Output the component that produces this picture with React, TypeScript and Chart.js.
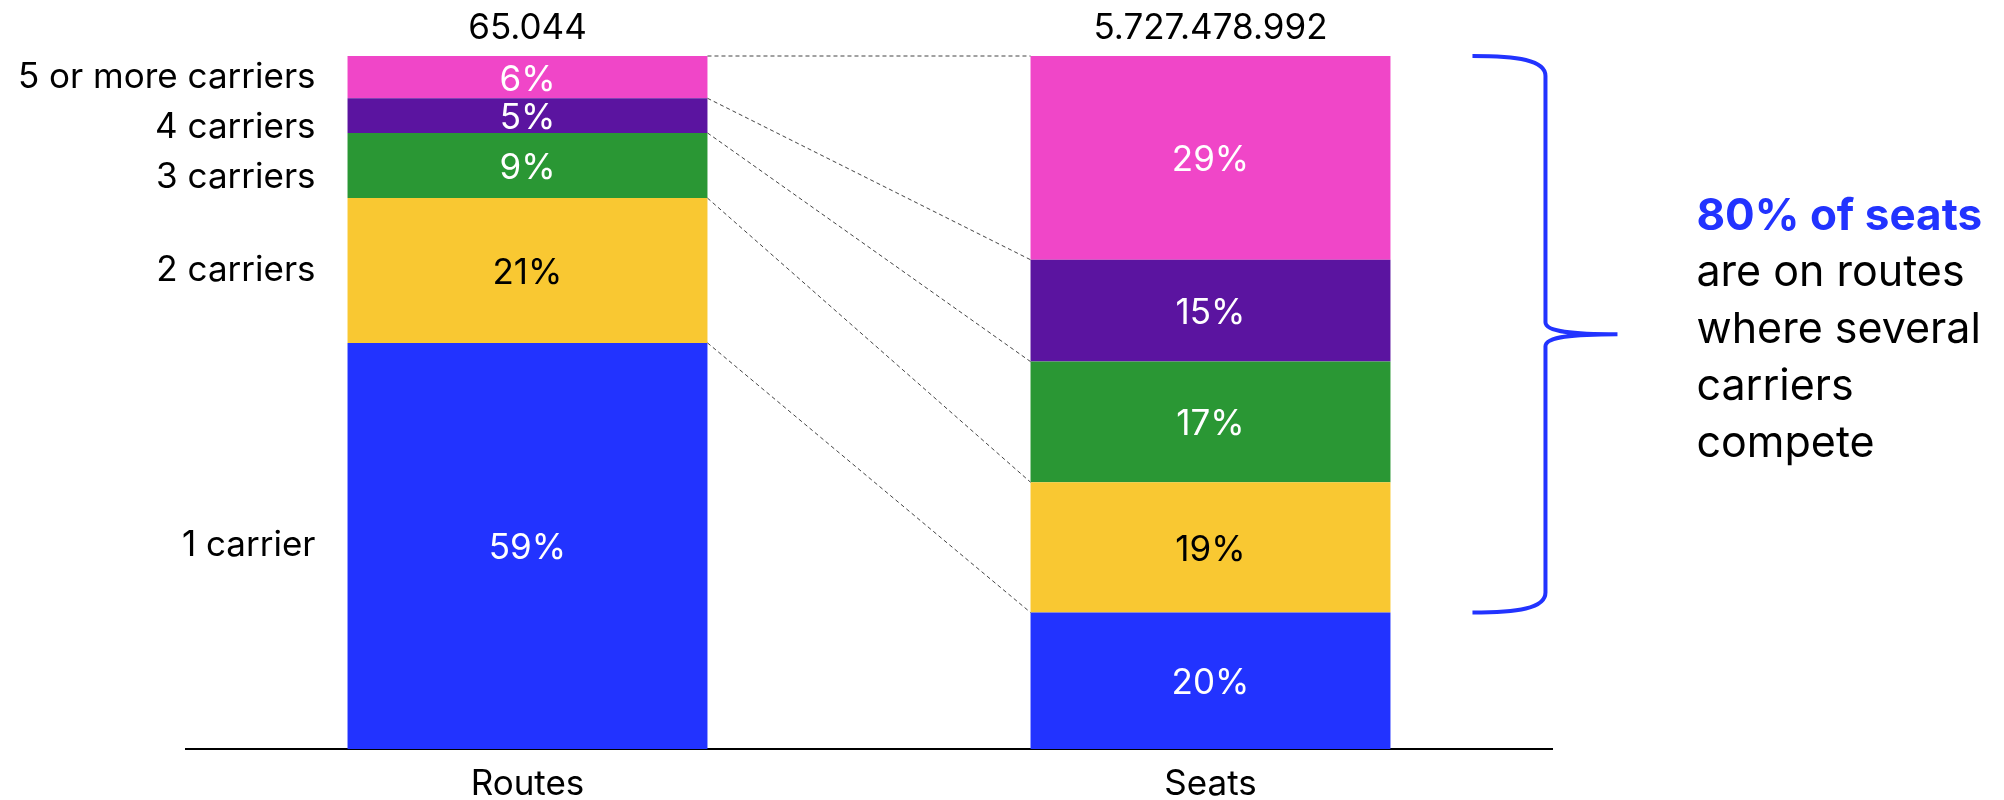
import React, { useEffect, useRef } from "react";
import { Chart, registerables } from "chart.js";

Chart.register(...registerables);

const categories = ["Routes", "Seats"];
const seriesNames = ["1 carrier", "2 carriers", "3 carriers", "4 carriers", "5 or more carriers"];
const oneCarrier = [58.6, 19.7];
const twoCarriers = [20.9, 18.8];
const threeCarriers = [9.4, 17.4];
const fourCarriers = [5.0, 14.7];
const fivePlusCarriers = [6.1, 29.4];
const totals = ["65.044", "5.727.478.992"];
const seriesColors = ["#2233FF", "#F9C832", "#2A9734", "#5B14A0", "#F046C8"];
const labelColors = ["#FFFFFF", "#000000", "#FFFFFF", "#FFFFFF", "#FFFFFF"];
const calloutHighlight = "80% of seats";
const calloutLines = ["are on routes", "where several", "carriers", "compete"];

const FONT = "Inter, 'Noto Sans', sans-serif";

const overlayPlugin = {
  id: "overlay",
  afterDatasetsDraw(chart: any) {
    const ctx = chart.ctx;
    const area = chart.chartArea;
    const xScale = chart.scales.x;
    const metas = chart.data.datasets.map((_: any, i: number) => chart.getDatasetMeta(i));
    ctx.save();

    // percent labels inside segments
    ctx.font = `35px ${FONT}`;
    ctx.textAlign = "center";
    ctx.textBaseline = "middle";
    metas.forEach((meta: any, i: number) => {
      meta.data.forEach((el: any, j: number) => {
        const v = chart.data.datasets[i].data[j];
        ctx.fillStyle = labelColors[i];
        ctx.fillText(Math.round(v) + "%", el.x, (el.y + el.base) / 2 + 3);
      });
    });

    // totals above bars
    ctx.fillStyle = "#000";
    metas[metas.length - 1].data.forEach((el: any, j: number) => {
      ctx.fillText(totals[j], el.x, el.y - 28);
    });

    // category labels under the axis
    categories.forEach((c, j) => {
      ctx.fillText(c, xScale.getPixelForValue(j), area.bottom + 35);
    });

    // left category labels, spread to avoid overlap
    const routeEls = metas.map((m: any) => m.data[0]);
    const centers: number[] = routeEls.map((el: any) => (el.y + el.base) / 2);
    const placed: number[] = new Array(centers.length);
    let prev = -Infinity;
    for (let i = centers.length - 1; i >= 0; i--) {
      const y = Math.max(centers[i], prev + 50);
      placed[i] = y;
      prev = y;
    }
    ctx.textAlign = "right";
    const leftX = routeEls[0].x - routeEls[0].width / 2 - 32;
    seriesNames.forEach((name, i) => {
      ctx.fillText(name, leftX, placed[i]);
    });

    // dashed connectors
    ctx.strokeStyle = "#444";
    ctx.lineWidth = 1;
    ctx.setLineDash([4, 3]);
    metas.forEach((meta: any) => {
      const a = meta.data[0];
      const b = meta.data[1];
      ctx.beginPath();
      ctx.moveTo(a.x + a.width / 2, a.y);
      ctx.lineTo(b.x - b.width / 2, b.y);
      ctx.stroke();
    });
    ctx.setLineDash([]);

    // brace over the multi-carrier share of seats
    const seatTop = metas[metas.length - 1].data[1];
    const seatBlue = metas[0].data[1];
    const top = seatTop.y;
    const bottom = seatBlue.y;
    const right = seatTop.x + seatTop.width / 2;
    const xe = right + 82;
    const xv = right + 155;
    const xt = right + 227;
    const mid = (top + bottom) / 2;
    ctx.strokeStyle = "#2233FF";
    ctx.lineWidth = 4;
    ctx.lineJoin = "round";
    ctx.beginPath();
    ctx.moveTo(xe, top);
    ctx.bezierCurveTo(xe + 45, top, xv, top + 4, xv, top + 20);
    ctx.lineTo(xv, mid - 12);
    ctx.bezierCurveTo(xv, mid - 2, xv + 30, mid, xt, mid);
    ctx.moveTo(xt, mid);
    ctx.bezierCurveTo(xv + 30, mid, xv, mid + 2, xv, mid + 12);
    ctx.lineTo(xv, bottom - 20);
    ctx.bezierCurveTo(xv, bottom - 4, xe + 45, bottom, xe, bottom);
    ctx.stroke();

    // callout text
    const tx = right + 306;
    const lh = 56.8;
    const firstBase = mid - 2 * lh + 9;
    ctx.textAlign = "left";
    ctx.textBaseline = "alphabetic";
    ctx.font = `bold 44px ${FONT}`;
    ctx.fillStyle = "#2233FF";
    ctx.fillText(calloutHighlight, tx, firstBase);
    ctx.font = `43px ${FONT}`;
    ctx.fillStyle = "#000";
    calloutLines.forEach((line, i) => {
      ctx.fillText(line, tx, firstBase + lh * (i + 1));
    });

    ctx.restore();
  },
};

export default function App() {
  const ref = useRef<HTMLCanvasElement | null>(null);
  useEffect(() => {
    if (!ref.current) return;
    const seriesData = [oneCarrier, twoCarriers, threeCarriers, fourCarriers, fivePlusCarriers];
    const chart = new Chart(ref.current, {
      type: "bar",
      data: {
        labels: categories,
        datasets: seriesData.map((d, i) => ({
          label: seriesNames[i],
          data: d,
          backgroundColor: seriesColors[i],
          borderWidth: 0,
          categoryPercentage: 1,
          barPercentage: 0.527,
        })),
      },
      options: {
        responsive: false,
        animation: false,
        devicePixelRatio: 1,
        layout: { padding: { left: 186, right: 452, top: 56, bottom: 51 } },
        plugins: { legend: { display: false }, tooltip: { enabled: false } },
        scales: {
          x: {
            stacked: true,
            grid: { display: false, drawTicks: false },
            border: { display: true, color: "#000", width: 2 },
            ticks: { display: false },
          },
          y: {
            stacked: true,
            display: false,
            min: 0,
            max: 100,
          },
        },
      },
      plugins: [overlayPlugin],
    });
    return () => chart.destroy();
  }, []);
  return (
    <div style={{ position: "absolute", left: 0, top: 0, width: 2004, height: 800, background: "#fff" }}>
      <canvas ref={ref} width={2004} height={800} style={{ display: "block" }} />
    </div>
  );
}
